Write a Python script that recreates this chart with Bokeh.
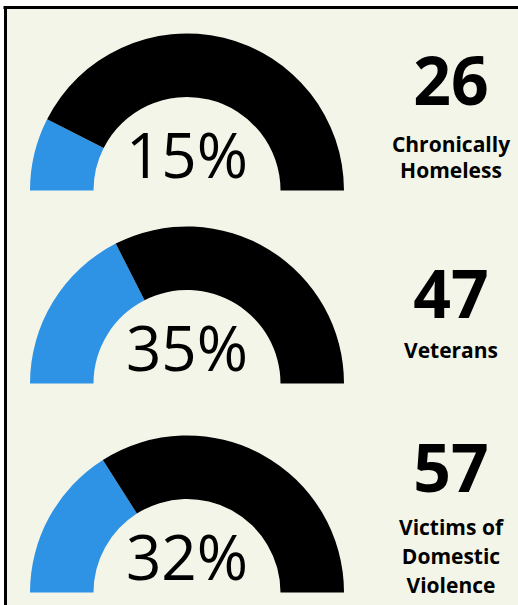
import math
from bokeh.plotting import figure
from bokeh.models import Range1d
from bokeh.core.properties import value
from bokeh.embed import file_html
from bokeh.resources import INLINE

# ---- data ----
percents = [15, 35, 32]
counts = [26, 47, 57]
labels = [["Chronically", "Homeless"], ["Veterans"], ["Victims of", "Domestic", "Violence"]]

# ---- layout (pixel coords, y downward) ----
W, H = 518, 605
gauge_cy_px = [190, 383, 592]
count_base_px = [105, 318, 492]
label_base_px = [[152, 178], [358], [535, 564, 593]]
cx = 186.5
r_out, r_in = 157, 93.5
num_x = 450.5

BG = "#f3f5e8"
BLUE = "#2e92e5"

# empirical baseline correction for the renderer
SHIFT_PCT, SHIFT_NUM, SHIFT_LBL = 23, 25, 9

def Y(py):
    return H - py

p = figure(width=W, height=H, x_range=Range1d(0, W), y_range=Range1d(0, H),
           output_backend="svg", toolbar_location=None,
           x_axis_location=None, y_axis_location=None,
           min_border=0, outline_line_color=None,
           background_fill_color="white", border_fill_color="white")
p.grid.visible = False

# panel background and top/left border
p.quad(left=[5], right=[W], bottom=[0], top=[Y(7)], fill_color=BG, line_color=None)
p.line(x=[3, W], y=[Y(7), Y(7)], line_color="black", line_width=3)
p.line(x=[5, 5], y=[Y(7), 0], line_color="black", line_width=3)

for i, pct in enumerate(percents):
    cy = Y(gauge_cy_px[i])
    split = math.pi * (1 - pct / 100.0)
    p.annular_wedge(x=[cx], y=[cy], inner_radius=r_in, outer_radius=r_out,
                    start_angle=[split], end_angle=[math.pi],
                    fill_color=BLUE, line_color=None)
    p.annular_wedge(x=[cx], y=[cy], inner_radius=r_in, outer_radius=r_out,
                    start_angle=[0], end_angle=[split],
                    fill_color="black", line_color=None)
    p.text(x=[cx], y=[cy + 14 + SHIFT_PCT], text=[f"{pct}%"], text_font=value("Open Sans"),
           text_font_size="62px", text_align="center", text_baseline="alphabetic",
           text_color="black")
    p.text(x=[num_x], y=[Y(count_base_px[i]) + SHIFT_NUM], text=[str(counts[i])],
           text_font=value("Open Sans"), text_font_style="bold",
           text_font_size="66px", text_align="center", text_baseline="alphabetic",
           text_color="black")
    for j, line in enumerate(labels[i]):
        p.text(x=[num_x], y=[Y(label_base_px[i][j]) + SHIFT_LBL], text=[line],
               text_font=value("Open Sans"), text_font_style="bold",
               text_font_size="21px", text_align="center", text_baseline="alphabetic",
               text_color="black")

open("out.html", "w").write(file_html(p, INLINE))
